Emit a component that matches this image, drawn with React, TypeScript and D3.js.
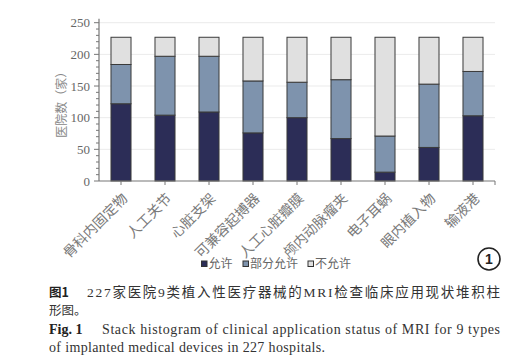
import React from "react";
import * as d3 from "d3";

const categories = ["骨科内固定物", "人工关节", "心脏支架", "可兼容起搏器", "人工心脏瓣膜", "颅内动脉瘤夹", "电子耳蜗", "眼内植入物", "输液港"];
const allowed = [122, 104, 109, 76, 100, 67, 14, 53, 103];
const partial = [62, 93, 88, 82, 56, 93, 57, 100, 70];
const notAllowed = [43, 30, 30, 69, 71, 67, 156, 74, 54];
const seriesNames = ["允许", "部分允许", "不允许"];
const yTicks = [0, 50, 100, 150, 200, 250];
const yMinorTicks = d3.range(0, 251, 10);
const colors = ["#2c2d57", "#7e93ad", "#e0e0e0"];

const W = 522, H = 356;
const plotL = 99, plotR = 495, plotT = 22.7, plotB = 181;
const serif = "'Liberation Serif', 'Times New Roman', 'Noto Sans CJK SC', serif";
const cjk = "'Noto Sans CJK SC', sans-serif";

export default function App() {
  const x = d3.scaleBand<string>().domain(categories).range([plotL, plotR]).paddingInner(0.545).paddingOuter(0.2725);
  const y = d3.scaleLinear().domain([0, 250]).range([plotB, plotT]);
  const table = categories.map((c, i) => ({ cat: c, a: allowed[i], p: partial[i], n: notAllowed[i] }));
  const stack = d3.stack<any>().keys(["a", "p", "n"])(table);

  return (
    <svg width={W} height={H} style={{ position: "absolute", left: 0, top: 0, background: "#fff" }} fontFamily={serif}>
      {/* gridlines */}
      {yTicks.filter(t => t > 0).map(t => (
        <line key={"g" + t} x1={plotL} x2={plotR} y1={y(t)} y2={y(t)} stroke="#ebebeb" strokeWidth={1} />
      ))}
      {/* bars */}
      {stack.map((s, si) => (
        <g key={si}>
          {s.map((d, i) => (
            <rect key={i} x={x(categories[i])!} width={x.bandwidth()} y={y(d[1])} height={y(d[0]) - y(d[1])}
              fill={colors[si]} stroke="#3a3a3a" strokeWidth={1} />
          ))}
        </g>
      ))}
      {/* y axis */}
      <line x1={plotL} x2={plotL} y1={y(250) - 4} y2={plotB} stroke="#777" strokeWidth={1.2} />
      {yMinorTicks.map(t => (
        <line key={"m" + t} x1={plotL - (t % 50 === 0 ? 5 : 3)} x2={plotL} y1={y(t)} y2={y(t)} stroke="#777" strokeWidth={1} />
      ))}
      {yTicks.map(t => (
        <text key={"t" + t} x={plotL - 9} y={y(t)} dy="0.35em" textAnchor="end" fontSize={13} fill="#666">{t}</text>
      ))}
      <text transform={`translate(62,${(plotT + plotB) / 2}) rotate(-90)`} textAnchor="middle" dy="0.35em" fontSize={12} fill="#888"
        fontFamily={cjk}>医院数（家）</text>
      {/* x axis */}
      <line x1={plotL} x2={plotR} y1={plotB} y2={plotB} stroke="#777" strokeWidth={1.2} />
      {categories.map(c => (
        <line key={"xt" + c} x1={x(c)! + x.bandwidth() / 2} x2={x(c)! + x.bandwidth() / 2} y1={plotB} y2={plotB + 4} stroke="#777" />
      ))}
      <line x1={plotR} x2={plotR} y1={plotB} y2={plotB + 4} stroke="#777" />
      {categories.map(c => (
        <text key={"xl" + c} transform={`translate(${x(c)! + x.bandwidth() / 2 + 4},${plotB + 15}) rotate(-45)`} textAnchor="end"
          dy="0.35em" fontSize={14} fill="#7a7a7a" fontFamily={cjk}>{c}</text>
      ))}
      {/* legend */}
      {seriesNames.map((n, i) => {
        const lx = [201.5, 243, 308][i];
        return (
          <g key={n}>
            <rect x={lx} y={261} width={5.5} height={5.5} fill={colors[i]} stroke="#333" strokeWidth={1} />
            <text x={lx + 7} y={264} dy="0.35em" fontSize={12} fill="#666" fontFamily={cjk}>{n}</text>
          </g>
        );
      })}
      {/* circled number */}
      <circle cx={489} cy={259} r={11} fill="none" stroke="#222" strokeWidth={1.6} />
      <text x={489} y={259} dy="0.36em" textAnchor="middle" fontSize={14} fontWeight={700} fontFamily="'Liberation Sans', Arial, sans-serif" fill="#222">1</text>
      {/* caption */}
      <text x={49} y={297} fontSize={12.5} fill="#222" fontFamily={cjk} fontWeight={700}>图1</text>
      <text x={87} y={297} fontSize={13.5} fill="#333" textLength={413} lengthAdjust="spacing"
        fontFamily="'Liberation Serif', 'Noto Sans CJK SC', serif">227家医院9类植入性医疗器械的MRI检查临床应用现状堆积柱</text>
      <text x={49} y={315} fontSize={12.5} fill="#333" fontFamily={cjk}>形图。</text>
      <text x={49} y={334} fontSize={14} fill="#222" fontWeight={700}>Fig. 1</text>
      <text x={102} y={334} fontSize={14} fill="#333" textLength={398} lengthAdjust="spacing">Stack histogram of clinical application status of MRI for 9 types</text>
      <text x={49} y={352} fontSize={14} fill="#333" textLength={276} lengthAdjust="spacing">of implanted medical devices in 227 hospitals.</text>
    </svg>
  );
}
